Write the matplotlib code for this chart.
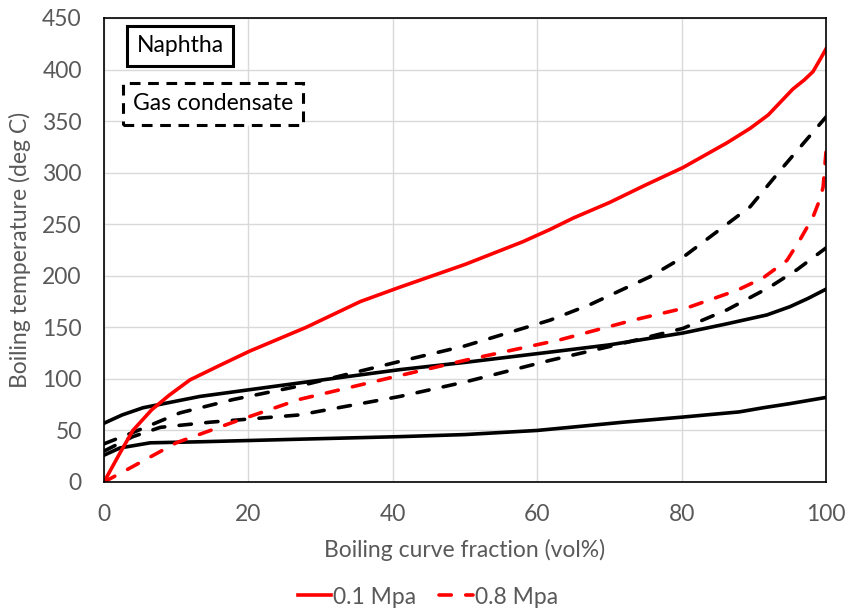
import matplotlib.pyplot as plt

plt.rcParams['font.family'] = ['Lato', 'DejaVu Sans']

# boiling curves, x = vol% distilled, y = temperature (deg C)
# naphtha, 0.1 MPa (red solid)
naph_01_x = [0, 2.2, 4, 6.6, 9, 11.9, 16, 20.2, 28, 35.5, 41, 50, 58, 61.8, 65, 70, 75, 80.2, 86.3, 89.5, 92, 95.4, 97, 98.2, 99.2, 100]
naph_01_y = [0, 28, 50, 70, 84, 99, 113, 127, 150, 175, 189, 211, 233, 245, 256, 271, 288, 305, 329, 343, 356, 381, 390, 398, 410, 420]
# naphtha, 0.8 MPa (red dashed)
naph_08_x = [0, 3.2, 10, 17.9, 27, 39.6, 50, 63.2, 73.3, 81.2, 87.7, 91.3, 94.6, 96.4, 98.2, 99.2, 99.6, 100]
naph_08_y = [0, 12, 38, 58, 80, 101, 118, 138, 157, 170, 186, 198, 215, 235, 257, 275, 286, 320]
# gas condensate curves (black dashed)
gc_hi_x = [0, 4, 10.5, 17.9, 27, 41, 50, 61.8, 67.3, 75.6, 80.2, 89.5, 94, 100]
gc_hi_y = [37, 48, 67, 80, 93, 117, 132, 157, 172, 199, 218, 267, 305, 354]
gc_lo_x = [0, 4, 7.8, 14.7, 27, 41, 50, 61.8, 71, 80.2, 86.3, 92.2, 96, 100]
gc_lo_y = [30, 44, 53, 58, 65, 83, 97, 118, 133, 149, 167, 189, 206, 227]
# naphtha curves (black solid)
sol_hi_x = [0, 2.5, 5.4, 13.3, 27, 41, 50, 61.8, 70, 80.2, 86, 91.8, 95, 97.5, 100]
sol_hi_y = [57, 65, 72, 83, 96, 109, 116, 126, 133, 144.5, 153, 162, 170, 178, 187]
sol_lo_x = [0, 2.2, 6.4, 13.3, 27, 41, 50, 60, 66, 71.9, 80.2, 88, 91.3, 95, 100]
sol_lo_y = [26, 33, 38, 39, 41.5, 44, 46, 50, 54, 58, 63, 68, 72, 76, 82]

DASH = (0, (3.4, 4.0))
FS = 16.5
GREY = '#595959'

fig = plt.figure(figsize=(8.48, 6.10), dpi=100)
ax = fig.add_axes([104 / 848, 1 - 482 / 610, 722 / 848, 464 / 610])

ax.plot(sol_lo_x, sol_lo_y, color='black', lw=2.6)
ax.plot(sol_hi_x, sol_hi_y, color='black', lw=2.6)
ax.plot(gc_lo_x, gc_lo_y, color='black', lw=2.6, ls=DASH, dash_capstyle='round')
ax.plot(gc_hi_x, gc_hi_y, color='black', lw=2.6, ls=DASH, dash_capstyle='round')
ax.plot(naph_08_x, naph_08_y, color='#ff0000', lw=2.6, ls=DASH, dash_capstyle='round', label='0.8 Mpa')
ax.plot(naph_01_x, naph_01_y, color='#ff0000', lw=2.6, label='0.1 Mpa')

ax.set_xlim(0, 100)
ax.set_ylim(0, 450)
ax.set_xticks(range(0, 101, 20))
ax.set_yticks(range(0, 451, 50))
ax.grid(True, color='#d9d9d9', lw=1)
ax.set_axisbelow(True)
for s in ax.spines.values():
    s.set_color('black')
    s.set_linewidth(1.2)
ax.tick_params(length=0, labelsize=FS, colors=GREY)
ax.tick_params(axis='x', pad=16)
ax.tick_params(axis='y', pad=16)
ax.set_xlabel('Boiling curve fraction (vol%)', fontsize=FS, color=GREY, labelpad=10)
ax.set_ylabel('Boiling temperature (deg C)', fontsize=FS, color=GREY, labelpad=8)

# boxed labels
ax.text(0.045, 0.94, 'Naphtha', transform=ax.transAxes, fontsize=FS, va='center',
        bbox=dict(boxstyle='square,pad=0.4', fc='white', ec='black', lw=2.2))
ax.text(0.04, 0.815, 'Gas condensate', transform=ax.transAxes, fontsize=FS, va='center',
        bbox=dict(boxstyle='square,pad=0.45', fc='white', ec='black', lw=2.2, ls=(0, (3.5, 2.5))))

h, l = ax.get_legend_handles_labels()
fig.legend(h[::-1], l[::-1], loc='center', bbox_to_anchor=(428 / 848, 1 - 597 / 610), ncol=2,
           frameon=False, fontsize=FS, labelcolor=GREY, handlelength=1.45,
           handletextpad=0.1, columnspacing=1.0)

fig.savefig('out.png', dpi=100)
